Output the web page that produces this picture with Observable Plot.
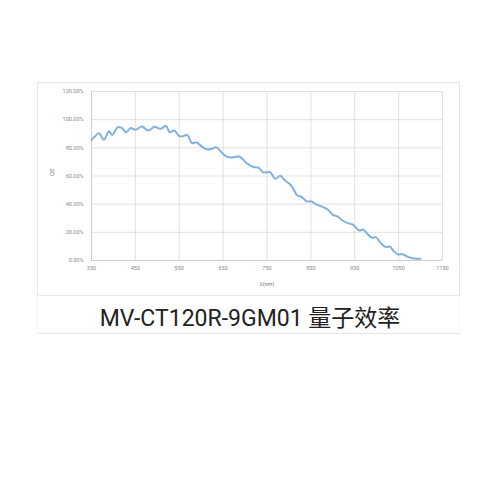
<!DOCTYPE html>
<html>
<head>
<meta charset="utf-8">
<script src="https://cdn.jsdelivr.net/npm/d3@7"></script>
<script src="https://cdn.jsdelivr.net/npm/@observablehq/plot@0.6"></script>
<style>
  html, body { margin: 0; padding: 0; background: #fff; }
  #wrap { position: relative; width: 500px; height: 500px; overflow: hidden; }
  #wrap svg { position: absolute; left: 0; top: 0; }
  .box { position: absolute; left: 37px; top: 82px; width: 421px; height: 212px; border: 1px solid #e6e6e6; }
  .tbox { position: absolute; left: 37px; top: 295px; width: 421px; height: 38px; border-left: 1px solid #f5f5f5; border-right: 1px solid #f5f5f5; border-bottom: 1px solid #e3e3e3; }
  .title { position: absolute; left: 0; width: 500px; top: 299px; text-align: center; font-family: Roboto, "Noto Sans CJK SC", sans-serif; font-size: 23px; color: #222; }
</style>
</head>
<body>
<div id="wrap">
  <div class="box"></div>
  <div class="tbox"></div>
  <div class="title">MV-CT120R-9GM01 量子效率</div>
</div>
<script>
const wavelength = [350, 357, 367, 378, 390, 397, 410, 418, 429, 439, 450, 465, 479, 494, 507, 520, 528, 539, 550, 558, 568, 579, 589, 600, 614, 627, 634, 646, 656, 668, 687, 702, 714, 720, 731, 742, 757, 769, 780, 791, 803, 810, 819, 829, 840, 851, 862, 877, 889, 900, 911, 922, 934, 945, 960, 969, 979, 989, 998, 1009, 1021, 1030, 1039, 1049, 1059, 1073, 1085, 1100];
const qe = [85.5, 87.8, 90.4, 85.7, 91.8, 89.2, 94.7, 94.3, 91.1, 94.0, 92.8, 95.1, 92.3, 94.9, 93.5, 95.4, 91.1, 92.3, 88.3, 88.2, 89.2, 83.3, 84.0, 81.2, 78.8, 79.6, 80.5, 76.9, 74.1, 73.1, 73.8, 69.6, 67.0, 66.3, 65.8, 62.5, 62.7, 58.0, 60.1, 56.8, 54.0, 50.9, 46.2, 45.2, 42.1, 41.9, 39.8, 38.1, 36.0, 32.4, 31.2, 28.4, 26.5, 25.6, 21.3, 22.0, 18.9, 16.1, 16.6, 12.5, 9.5, 9.9, 6.6, 4.3, 4.5, 2.4, 1.4, 1.2];
const xTicks = [350, 450, 550, 650, 750, 850, 950, 1050, 1150];
const yTicks = [0, 20, 40, 60, 80, 100, 120];

const data = wavelength.map((w, i) => ({w, q: qe[i]}));

const chart = Plot.plot({
  width: 500,
  height: 500,
  marginLeft: 91,
  marginRight: 58,
  marginTop: 91,
  marginBottom: 240,
  style: {fontFamily: "Roboto, sans-serif", fontSize: "5.5px", color: "#888", background: "transparent"},
  x: {domain: [350, 1150], ticks: xTicks, tickSize: 0, tickPadding: 6, label: null, tickFormat: d => String(d)},
  y: {domain: [0, 120], ticks: yTicks, tickSize: 0, tickPadding: 8, label: null, tickFormat: d => d.toFixed(2) + "%"},
  marks: [
    Plot.gridX(xTicks, {stroke: "#d9d9d9", strokeOpacity: 1, strokeWidth: 0.8}),
    Plot.gridY(yTicks, {stroke: "#d9d9d9", strokeOpacity: 1, strokeWidth: 0.8}),
    Plot.ruleY([0], {stroke: "#cfcfcf"}),
    Plot.ruleX([350], {stroke: "#cfcfcf"}),
    Plot.axisX({ticks: xTicks, tickSize: 0, tickPadding: 6, label: null, fontSize: 5.5, fill: "#888", tickFormat: d => String(d)}),
    Plot.axisY({ticks: yTicks, tickSize: 0, tickPadding: 8, label: null, fontSize: 5.5, fill: "#888", tickFormat: d => d.toFixed(2) + "%"}),
    Plot.text(["λ(nm)"], {frameAnchor: "bottom", dy: 25, fontSize: 5.5, fill: "#777"}),
    Plot.text(["QE"], {frameAnchor: "left", dx: -39, rotate: -90, fontSize: 6, fill: "#777"}),
    Plot.line(data, {x: "w", y: "q", stroke: "#80b2de", strokeWidth: 2, curve: "catmull-rom"})
  ]
});
document.getElementById("wrap").prepend(chart);
</script>
</body>
</html>
